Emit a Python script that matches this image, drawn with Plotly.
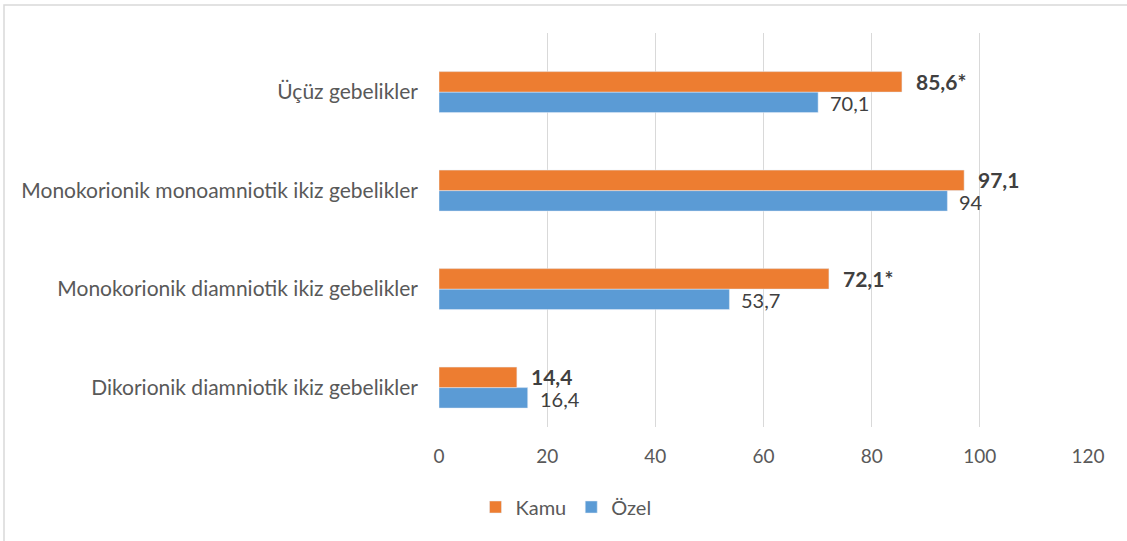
import plotly.graph_objects as go

categories = [
    "Dikorionik diamniotik ikiz gebelikler",
    "Monokorionik diamniotik ikiz gebelikler",
    "Monokorionik monoamniotik ikiz gebelikler",
    "Üçüz gebelikler",
]
kamu_values = [14.4, 72.1, 97.1, 85.6]
ozel_values = [16.4, 53.7, 94, 70.1]
kamu_labels = ["14,4", "72,1*", "97,1", "85,6*"]
ozel_labels = ["16,4", "53,7", "94", "70,1"]
x_ticks = [0, 20, 40, 60, 80, 100, 120]

FONT = "Lato, 'Open Sans', sans-serif"
ORANGE = "#ED7D31"
BLUE = "#5B9BD5"
TXT = "#595959"
LBL = "#404040"

fig = go.Figure()
fig.add_trace(go.Bar(
    y=categories, x=ozel_values, name="Özel", orientation="h",
    marker=dict(color=BLUE), legendrank=2, hoverinfo="x+name",
))
fig.add_trace(go.Bar(
    y=categories, x=kamu_values, name="Kamu", orientation="h",
    marker=dict(color=ORANGE), legendrank=1, hoverinfo="x+name",
))

annotations = []
for cat, v, t in zip(categories, kamu_values, kamu_labels):
    annotations.append(dict(
        x=v, y=cat, xref="x", yref="y", text="<b>" + t + "</b>",
        showarrow=False, xanchor="left", yanchor="middle", borderpad=0,
        xshift=13, yshift=11, font=dict(family=FONT, size=21, color=LBL),
    ))
for cat, v, t in zip(categories, ozel_values, ozel_labels):
    annotations.append(dict(
        x=v, y=cat, xref="x", yref="y", text=t,
        showarrow=False, xanchor="left", yanchor="middle", borderpad=0,
        xshift=11, yshift=-11, font=dict(family=FONT, size=20, color=LBL),
    ))

W, H = 1127, 541
L, R, T, B = 439, 39, 33, 114
pw = W - L - R
ph = H - T - B
shapes = [dict(
    type="rect", xref="paper", yref="paper",
    x0=(4 - L) / pw, x1=(W + 20 - L) / pw,
    y0=-(H + 20 - T - ph) / ph, y1=1 + (T - 5) / ph,
    line=dict(color="#D9D9D9", width=1.5), fillcolor="rgba(0,0,0,0)", layer="below",
)]

fig.update_layout(
    width=W, height=H,
    margin=dict(l=L, r=R, t=T, b=B, autoexpand=False),
    paper_bgcolor="white", plot_bgcolor="white",
    barmode="group", bargap=0.584, bargroupgap=0,
    font=dict(family=FONT, size=19, color=TXT),
    xaxis=dict(
        range=[0, 120], tickvals=x_ticks, ticktext=[str(v) for v in x_ticks],
        showgrid=True, gridcolor="#D9D9D9", gridwidth=1,
        zeroline=False, showline=False, ticks="",
        tickfont=dict(family=FONT, size=19, color=TXT), ticklabelstandoff=16,
        automargin=False,
    ),
    yaxis=dict(
        type="category", categoryorder="array", categoryarray=categories,
        range=[-0.4, 3.6],
        showgrid=False, zeroline=False, showline=False, ticks="",
        tickfont=dict(family=FONT, size=21, color=TXT), ticklabelstandoff=20,
        automargin=False,
    ),
    legend=dict(
        orientation="h", x=566 / W, xref="container",
        xanchor="center", y=1 - 507 / H, yref="container", yanchor="middle",
        font=dict(family=FONT, size=20, color=TXT), itemwidth=30,
    ),
    annotations=annotations,
    shapes=shapes,
)

fig.write_html(
    "out.html",
    config={"displayModeBar": False},
    post_script="document.body.style.margin='0';",
)
